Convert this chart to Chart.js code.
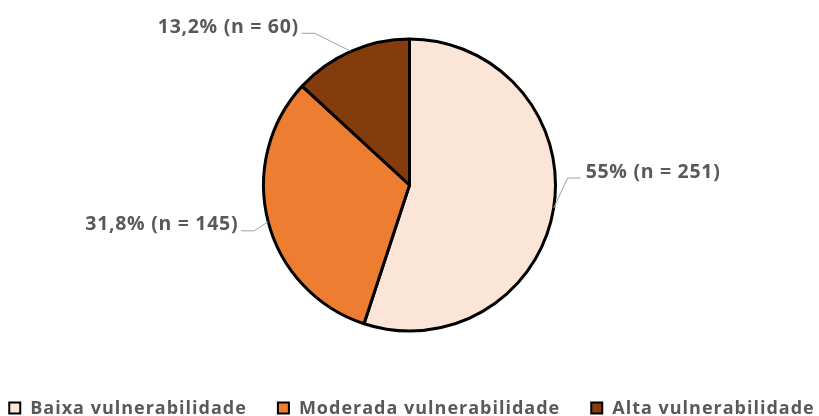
<!DOCTYPE html>
<html>
<head>
<meta charset="utf-8">
<script src="https://cdn.jsdelivr.net/npm/chart.js@4.4.1/dist/chart.umd.min.js"></script>
<style>
  html, body { margin: 0; padding: 0; background: #fff; overflow: hidden; }
  #wrap { width: 819px; height: 416px; }
</style>
</head>
<body>
<div id="wrap"><canvas id="myChart"></canvas></div>
<script>
var categorias = ['Baixa vulnerabilidade', 'Moderada vulnerabilidade', 'Alta vulnerabilidade']
var contagens = [251, 145, 60]
var percentuais = ['55%', '31,8%', '13,2%']
var cores = ['#fbe5d6', '#ed7d31', '#843c0c']

var corTexto = '#595959'
var corLinha = '#a0a0a0'

// onde fica cada rótulo em relação ao ponto da borda (dx, dy do cotovelo, lado)
var chamadas = [
    { dx: 14, dy: -30, lado: 'dir' },
    { dx: -14, dy: 9, lado: 'esq' },
    { dx: -36, dy: -18, lado: 'esq' }
]

const rotulosPlugin = {
    id: 'rotulos',
    afterDatasetsDraw(chart) {
        const ctx = chart.ctx
        const arcos = chart.getDatasetMeta(0).data
        ctx.save()
        ctx.font = 'bold 19.5px "Open Sans"'
        ctx.letterSpacing = '0.7px'
        arcos.forEach(function (arco, i) {
            const meio = (arco.startAngle + arco.endAngle) / 2
            const r = arco.outerRadius
            const bx = arco.x + Math.cos(meio) * r
            const by = arco.y + Math.sin(meio) * r
            const c = chamadas[i]
            const ex = bx + c.dx
            const ey = by + c.dy
            const fx = c.lado === 'dir' ? ex + 13 : ex - 13

            ctx.strokeStyle = corLinha
            ctx.lineWidth = 1
            ctx.beginPath()
            ctx.moveTo(bx, by)
            ctx.lineTo(ex, ey)
            ctx.lineTo(fx, ey)
            ctx.stroke()

            const texto = percentuais[i] + ' (n = ' + contagens[i] + ')'
            ctx.fillStyle = corTexto
            ctx.textBaseline = 'middle'
            if (c.lado === 'dir') {
                ctx.textAlign = 'left'
                ctx.fillText(texto, fx + 5, ey - 6)
            } else {
                ctx.textAlign = 'right'
                ctx.fillText(texto, fx - 3, ey - 6)
            }
        })
        ctx.restore()
    }
}

const legendaPlugin = {
    id: 'legenda',
    afterDraw(chart) {
        const ctx = chart.ctx
        ctx.save()
        ctx.font = 'bold 18px "Open Sans"'
        ctx.letterSpacing = '1px'
        const caixa = 11
        const vao = 10
        const entre = 31
        const larguras = categorias.map(function (t) { return ctx.measureText(t).width })
        let total = 0
        larguras.forEach(function (w, i) {
            total += caixa + vao + w
            if (i < larguras.length - 1) total += entre
        })
        let x = 412 - total / 2
        const y = 408
        categorias.forEach(function (t, i) {
            ctx.fillStyle = cores[i]
            ctx.fillRect(x, y - caixa / 2, caixa, caixa)
            ctx.strokeStyle = '#000'
            ctx.lineWidth = 2
            ctx.strokeRect(x, y - caixa / 2, caixa, caixa)
            ctx.fillStyle = corTexto
            ctx.textAlign = 'left'
            ctx.textBaseline = 'alphabetic'
            ctx.fillText(t, x + caixa + vao, y + 6)
            x += caixa + vao + larguras[i] + entre
        })
        ctx.restore()
    }
}

grafico()

function grafico() {
    const ctx = document.getElementById('myChart')

    new Chart(ctx, {
        type: 'pie',
        data: {
            labels: categorias,
            datasets: [{
                data: contagens,
                backgroundColor: cores,
                borderColor: '#000',
                borderWidth: 3,
                radius: 146
            }]
        },
        options: {
            responsive: true,
            maintainAspectRatio: false,
            animation: false,
            layout: {
                padding: { top: 39, bottom: 85, left: 0, right: 0 }
            },
            plugins: {
                legend: { display: false },
                tooltip: { enabled: false }
            }
        },
        plugins: [rotulosPlugin, legendaPlugin]
    });
}
</script>
</body>
</html>
